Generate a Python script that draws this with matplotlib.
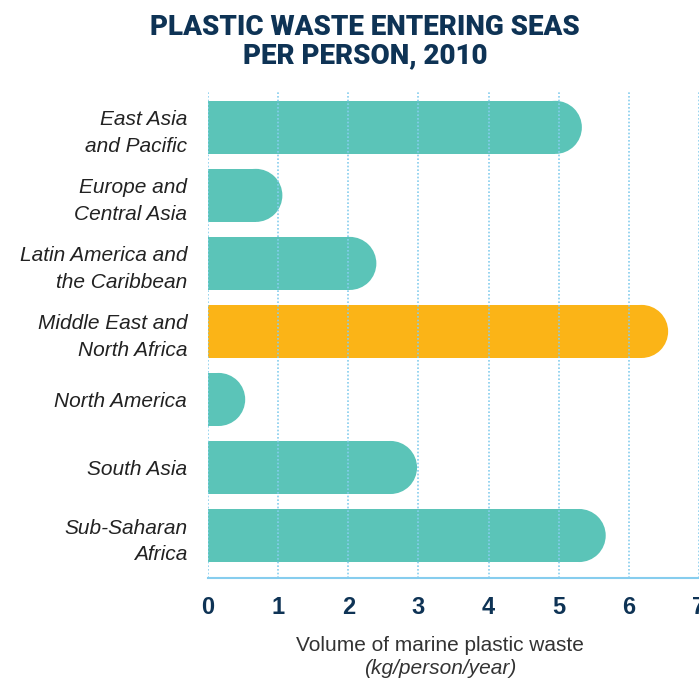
import matplotlib.pyplot as plt
from matplotlib.patches import Ellipse

# Dane
regions = ["East Asia\nand Pacific", "Europe and\nCentral Asia", "Latin America and\nthe Caribbean",
           "Middle East and\nNorth Africa", "North America", "South Asia", "Sub-Saharan\nAfrica"]
values = [5.33, 1.06, 2.40, 6.56, 0.53, 2.98, 5.67]
highlight = "Middle East and\nNorth Africa"
ticks = [0, 1, 2, 3, 4, 5, 6, 7]

teal = "#5BC4B8"
orange = "#FBB417"
navy = "#0E3355"
grid_blue = "#86CDEE"

fig = plt.figure(figsize=(6.99, 6.83), dpi=100)
ax = fig.add_axes([0.2976, 0.1537, 0.7024, 0.7116])

bar_h = 0.78
ax.set_xlim(0, 7)
ax.set_ylim(6.625, -0.52)

# promien zaokraglenia w jednostkach danych
px_per_x = ax.get_window_extent().width / 7
px_per_y = ax.get_window_extent().height / (6.625 + 0.52)
r_px = bar_h * px_per_y / 2
rx = r_px / px_per_x

for i, (name, v) in enumerate(zip(regions, values)):
    c = orange if name == highlight else teal
    ax.barh(i, v - rx, height=bar_h, color=c, zorder=2, linewidth=0)
    ax.add_patch(Ellipse((v - rx, i), 2 * rx, bar_h, color=c, zorder=2, linewidth=0))

ax.set_xticks(ticks)
ax.set_xticklabels([str(t) for t in ticks], fontsize=17, fontweight="bold", color=navy,
                   family="Liberation Sans")
ax.tick_params(axis="x", length=0, pad=13)
ax.set_yticks(range(len(regions)))
ax.set_yticklabels(regions, fontsize=15, style="italic", color="#222222",
                   family="Liberation Sans", linespacing=1.5)
ax.tick_params(axis="y", length=0, pad=15)

ax.grid(axis="x", color=grid_blue, linestyle=(0, (1, 1.2)), linewidth=1.2, zorder=3)
ax.set_axisbelow(False)
for s in ["top", "right", "left"]:
    ax.spines[s].set_visible(False)
ax.spines["bottom"].set_color(grid_blue)
ax.spines["bottom"].set_linewidth(1.5)

fig.text(0.522, 0.98, "PLASTIC WASTE ENTERING SEAS\nPER PERSON, 2010", ha="center", va="top",
         fontsize=20, fontweight="heavy", color=navy, family="Roboto", linespacing=1.05)
fig.text(0.63, 0.055, "Volume of marine plastic waste", ha="center", va="center",
         fontsize=15, color="#333333", family="Liberation Sans")
fig.text(0.63, 0.021, "(kg/person/year)", ha="center", va="center",
         fontsize=15, style="italic", color="#333333", family="Liberation Sans")

fig.savefig("out.png", dpi=100)
